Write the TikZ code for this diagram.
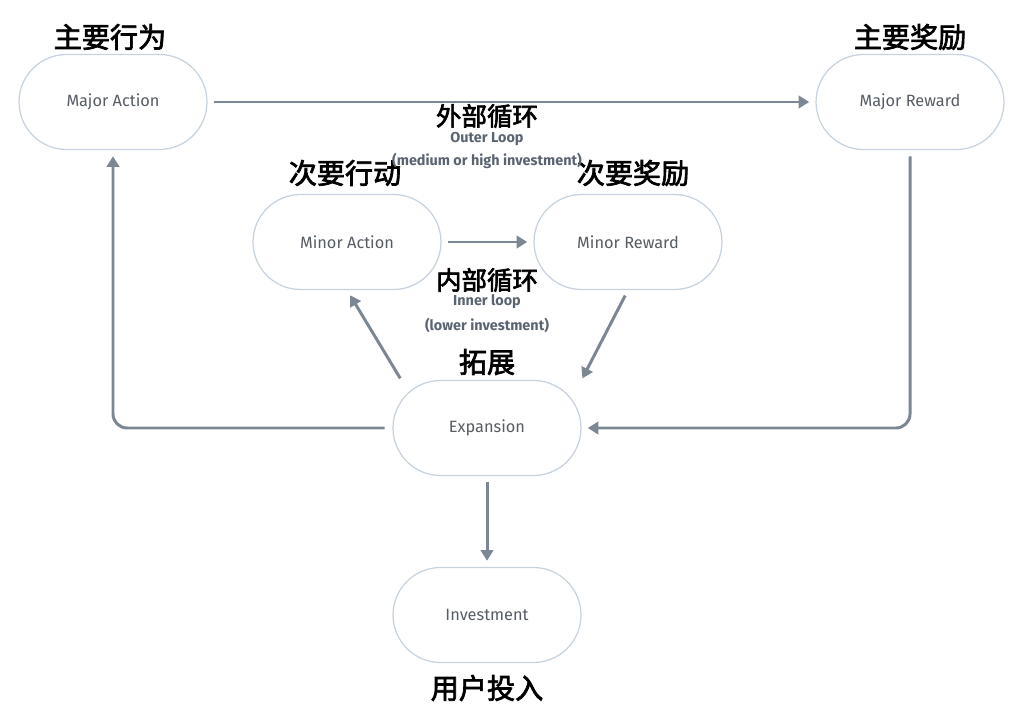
\documentclass[tikz,border=0pt]{standalone}
\usepackage{xcolor}
\usepackage{fontspec}
\usepackage{tikz}
\usetikzlibrary{calc}
\usetikzlibrary{arrows.meta}
\setmainfont{Fira Sans}
\newfontfamily\cjk{Noto Sans CJK SC}[FakeBold=2.5]
\definecolor{loopgray}{HTML}{7B8793}
\definecolor{pillline}{HTML}{C6D2DD}
\definecolor{pilltext}{HTML}{555C64}
\definecolor{notetext}{HTML}{5A6470}

\begin{document}
\begin{tikzpicture}[x=0.02cm,y=-0.02cm,
    pill/.style={draw=pillline,line width=0.7pt,rounded corners=0.95cm,
        minimum width=3.76cm,minimum height=1.9cm,text=pilltext,
        font=\fontsize{9.3}{11}\selectfont},
    cnlabel/.style={font=\cjk\fontsize{16}{18}\selectfont},
    looplabel/.style={font=\cjk\fontsize{14.5}{16}\selectfont},
    loopnote/.style={text=notetext,font=\bfseries\fontsize{8.2}{9}\selectfont},
    flow/.style={draw=loopgray,line width=1.7pt,
        -{Triangle[length=6pt,width=7pt]},shorten <=3.5pt,shorten >=3.5pt}]
    \useasboundingbox (0,0) rectangle (1024,719);

    % Marking the pills
    \node[pill] (majact) at (113,102) {Major Action};%
    \node[pill] (majrew) at (910,102) {Major Reward};%
    \node[pill] (minact) at (347,242) {Minor Action};%
    \node[pill] (minrew) at (628,242) {Minor Reward};%
    \node[pill] (exp) at (487,428) {Expansion};%
    \node[pill] (inv) at (487,615) {Investment};%

    % Marking the chinese titles
    \node[cnlabel] (majactcn) at (110,37) {主要行为};%
    \node[cnlabel] (majrewcn) at (910,37) {主要奖励};%
    \node[cnlabel] (minactcn) at (345,173) {次要行动};%
    \node[cnlabel] (minrewcn) at (633,173) {次要奖励};%
    \node[cnlabel] (expcn) at (487,362) {拓展};%
    \node[cnlabel] (invcn) at (487,688) {用户投入};%

    % Marking outer loop
    \node[looplabel] (outercn) at (487,116) {外部循环};%
    \node[loopnote] (outer) at (487,139) {Outer Loop};%
    \node[loopnote] (outernote) at (487,161) {(medium or high investment)};%

    % Marking inner loop
    \node[looplabel] (innercn) at (487,280) {内部循环};%
    \node[loopnote] (inner) at (487,302) {Inner loop};%
    \node[loopnote] (innernote) at (487,325) {(lower investment)};%

    % Drawing outer loop
    \draw[flow] (majact.east) -- (majrew.west);%
    \draw[flow,rounded corners=8pt] (majrew.south) |- (exp.east);%
    \draw[flow,rounded corners=8pt,shorten <=4.5pt] (exp.west) -| (majact.south);%

    % Drawing inner loop
    \draw[flow] (minact.east) -- (minrew.west);%
    \draw[flow,shorten >=1pt] (minrew.south) -- (exp.north east);%
    \draw[flow,shorten <=1pt] ([xshift=5]exp.north west) -- (minact.south);%

    % Drawing expansion to investment
    \draw[flow] (exp.south) -- (inv.north);%
\end{tikzpicture}
\end{document}
